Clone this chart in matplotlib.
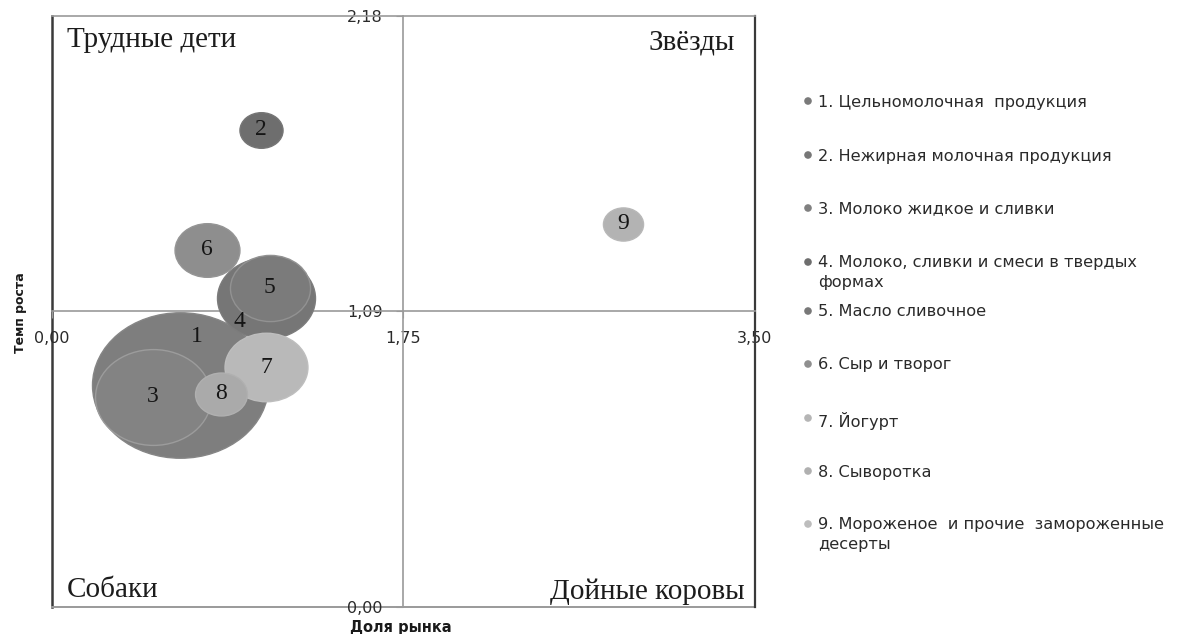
import numpy as np
import matplotlib
matplotlib.use("Agg")
import matplotlib.pyplot as plt
from matplotlib.path import Path
from matplotlib.transforms import Affine2D

# ---------------- data ----------------
categories = [
    "1. Цельномолочная  продукция",
    "2. Нежирная молочная продукция",
    "3. Молоко жидкое и сливки",
    "4. Молоко, сливки и смеси в твердых\nформах",
    "5. Масло сливочное",
    "6. Сыр и творог",
    "7. Йогурт",
    "8. Сыворотка",
    "9. Мороженое  и прочие  замороженные\nдесерты",
]
bubble_labels = ["1", "2", "3", "4", "5", "6", "7", "8", "9"]
market_share = [0.637, 1.040, 0.503, 1.065, 1.085, 0.772, 1.065, 0.841, 2.842]
growth_rate = [0.819, 1.760, 0.775, 1.140, 1.177, 1.317, 0.885, 0.786, 1.413]
bubble_size = [100.0, 6.0, 43.4, 31.0, 20.7, 13.6, 22.2, 8.7, 5.2]

x_ticks = [0.0, 1.75, 3.50]
x_tick_labels = ["0,00", "1,75", "3,50"]
y_ticks = [0.0, 1.09, 2.18]
y_tick_labels = ["0,00", "1,09", "2,18"]
quadrants = ["Трудные дети", "Звёзды", "Собаки", "Дойные коровы"]

# ---------------- style ----------------
fill_colors = ["#7e7e7e", "#6e6e6e", "#838383", "#767676", "#7b7b7b",
               "#8e8e8e", "#b9b9b9", "#aaaaaa", "#b3b3b3"]
edge_colors = ["#868686", "#767676", "#9c9c9c", "#7c7c7c", "#929292",
               "#959595", "#bebebe", "#b0b0b0", "#b8b8b8"]
legend_colors = ["#7a7a7a", "#777777", "#808080", "#6e6e6e", "#787878",
                 "#8f8f8f", "#b5b5b5", "#b0b0b0", "#bdbdbd"]
label_offsets_pt = [(12, 35), (0, 0), (0, 0), (-19, -17), (0, 0),
                    (0, 0), (0, 0), (0, 0), (0, 0)]
legend_rows_px = [101, 155, 208, 262, 311, 364, 418, 471, 524]

W, H = 1181, 634
fig = plt.figure(figsize=(W / 100, H / 100), dpi=100)
fig.patch.set_facecolor("white")

left, right, top, bottom = 52, 755, 16, 607
ax = fig.add_axes([left / W, (H - bottom) / H, (right - left) / W, (bottom - top) / H])
ax.set_xlim(0, 3.5)
ax.set_ylim(0, 2.18)
ax.set_facecolor("white")

# ellipse marker (bubbles appear horizontally stretched)
stretch = 1.21
ellipse = Path.unit_circle().transformed(Affine2D().scale(stretch, 1.0))

max_w_px = 176.0
order = np.argsort(bubble_size)[::-1]
for z, i in enumerate(order):
    w_pt = max_w_px * np.sqrt(bubble_size[i] / 100.0) * 0.72
    ax.scatter([market_share[i]], [growth_rate[i]], s=w_pt ** 2, marker=ellipse,
               facecolor=fill_colors[i], edgecolor=edge_colors[i], linewidth=1.0,
               zorder=3 + z)
for i in range(len(bubble_labels)):
    ax.annotate(bubble_labels[i], (market_share[i], growth_rate[i]),
                xytext=label_offsets_pt[i], textcoords="offset points",
                ha="center", va="center", fontsize=17,
                family="Liberation Serif", color="#151515", zorder=20)

# crossing axes
grey = "#9a9a9a"
dark = "#3a3a3a"
ax.spines["left"].set_position(("data", 1.75))
ax.spines["bottom"].set_position(("data", 1.09))
for s in ["left", "bottom", "top"]:
    ax.spines[s].set_color(grey)
    ax.spines[s].set_linewidth(1.2)
ax.spines["right"].set_color(dark)
ax.spines["right"].set_linewidth(1.6)
ax.axvline(0, color=dark, linewidth=1.8, zorder=1, clip_on=False)
ax.axhline(0, color=grey, linewidth=1.4, zorder=1, clip_on=False)

ax.set_xticks(x_ticks)
ax.set_xticklabels(x_tick_labels)
ax.set_yticks(y_ticks)
ax.set_yticklabels(y_tick_labels)
ax.tick_params(axis="both", direction="out", length=5, color=grey,
               labelsize=11.5, labelcolor="#2a2a2a")
ax.tick_params(axis="x", pad=9)
ax.tick_params(axis="y", pad=10)

ax.set_xlabel("Доля рынка", fontsize=10.5, fontweight="bold", color="#1a1a1a")
ax.xaxis.set_label_coords((401 - left) / (right - left), (bottom - 620) / (bottom - top))
ax.set_ylabel("Темп роста", fontsize=9, fontweight="bold", color="#1a1a1a")
ax.yaxis.set_label_coords((27 - left) / (right - left), (bottom - 313) / (bottom - top))

qfont = dict(family="Liberation Serif", fontsize=21, color="#1c1c1c", va="center")
ax.text(0.021, 0.959, quadrants[0], transform=ax.transAxes, ha="left", **qfont)
ax.text(0.972, 0.956, quadrants[1], transform=ax.transAxes, ha="right", **qfont)
ax.text(0.021, 0.029, quadrants[2], transform=ax.transAxes, ha="left", **qfont)
ax.text(0.985, 0.026, quadrants[3], transform=ax.transAxes, ha="right", **qfont)

# legend
lax = fig.add_axes([0, 0, 1, 1])
lax.set_xlim(0, W)
lax.set_ylim(H, 0)
lax.axis("off")
for i, lab in enumerate(categories):
    y = legend_rows_px[i]
    lax.scatter([808], [y], s=30, color=legend_colors[i], edgecolor="none")
    lax.text(818, y - 6.5, lab, ha="left", va="top", fontsize=11.6,
             family="DejaVu Sans", color="#2a2a2a", linespacing=1.4)

fig.savefig("out.png", dpi=100)
